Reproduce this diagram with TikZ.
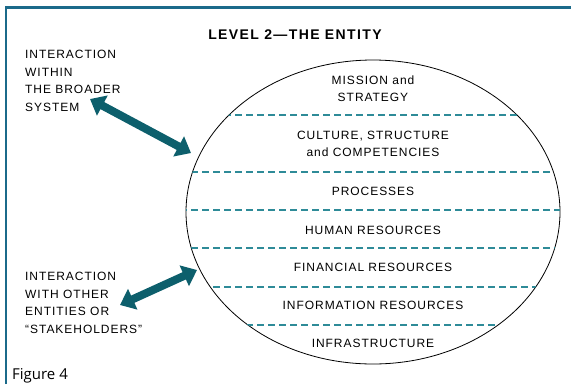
\documentclass[tikz,border=0pt]{standalone}
\usepackage{fontspec}
\setmainfont{Liberation Sans}
\newfontfamily\labfont[LetterSpace=8]{Liberation Sans}
\newfontfamily\titlefont[LetterSpace=10]{Liberation Sans}
\newfontfamily\figfont{Open Sans}
\usetikzlibrary{arrows.meta,shapes.geometric}
\definecolor{framecol}{HTML}{1B6A8A}
\definecolor{dashcol}{HTML}{2E8B98}
\definecolor{arrowcol}{HTML}{0D5F6C}
\begin{document}
\begin{tikzpicture}[x=1pt,y=-1pt,
	layer/.style={inner sep=0pt,
		font=\labfont\fontsize{12}{17}\selectfont,
		align=center},
	side/.style={inner sep=0pt,
		font=\labfont\fontsize{12}{17.5}\selectfont,
		align=left,
		anchor=north west},
	divider/.style={dashcol, line width=1.1pt, dash pattern=on 7pt off 4pt},
	link/.style={arrowcol, line width=8pt,
		{Triangle[length=14pt,width=22pt]}-{Triangle[length=14pt,width=22pt]}}]
	\useasboundingbox (0,0) rectangle (571,384);
	\draw[framecol, line width=2.5pt] (6,384) -- (6,7.5) -- (571,7.5);
	
	\node[inner sep=0pt, font=\titlefont\bfseries\fontsize{14}{16}\selectfont] (title) at (295,35) {LEVEL 2—THE ENTITY};
	
	\node[ellipse, draw=black, line width=0.8pt, inner sep=0pt,
	minimum width=374pt, minimum height=304pt] (entity) at (373,212) {};
	\begin{scope}
		\clip (373,212) ellipse [x radius=187, y radius=152];
		\foreach \yy in {115,172,210,248,287,325}
		\draw[divider] (180,\yy) -- (566,\yy);
	\end{scope}
	
	\node[layer] (mission) at (373,88.5) {MISSION and\\STRATEGY};
	\node[layer] (culture) at (373,144) {CULTURE, STRUCTURE\\and COMPETENCIES};
	\node[layer] (proc) at (373,191) {PROCESSES};
	\node[layer] (human) at (373,230) {HUMAN RESOURCES};
	\node[layer] (finance) at (373,267) {FINANCIAL RESOURCES};
	\node[layer] (info) at (373,305) {INFORMATION RESOURCES};
	\node[layer] (infra) at (373,343) {INFRASTRUCTURE};
	
	\node[side] (broader) at (25,50) {INTERACTION\\WITHIN\\THE BROADER\\SYSTEM};
	\node[side] (stake) at (25,272) {INTERACTION\\WITH OTHER\\ENTITIES OR\\“STAKEHOLDERS”};
	
	\coordinate (sysend) at (90,99);
	\coordinate (entA) at (191,153);
	\draw[link] (sysend) -- (entA);
	\coordinate (stakeend) at (120,305);
	\coordinate (entB) at (197,270);
	\draw[link] (stakeend) -- (entB);
	
	\node[inner sep=0pt, anchor=west, font=\figfont\fontsize{15}{17}\selectfont] (fig) at (12,376) {Figure 4};
\end{tikzpicture}
\end{document}
